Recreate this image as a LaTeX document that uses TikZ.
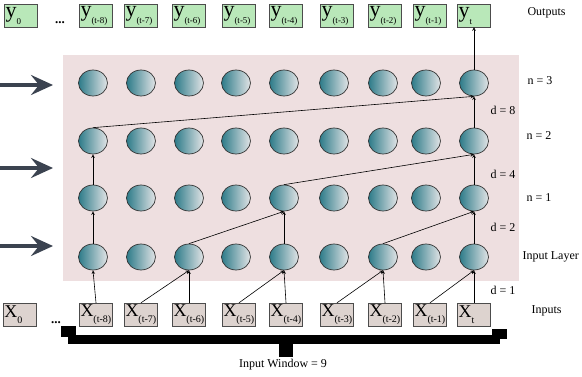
\documentclass[tikz,border=0pt]{standalone}
\usepackage{fontspec}
\setmainfont{Liberation Serif}
\usetikzlibrary{shapes.geometric,arrows.meta}
\definecolor{bgpink}{HTML}{EEDFE0}
\definecolor{outgreen}{HTML}{B9E8B9}
\definecolor{ingray}{HTML}{DDD3CF}
\definecolor{cellteal}{HTML}{2D7B89}
\definecolor{celllight}{HTML}{E2E4E6}
\definecolor{bigarrow}{HTML}{3B4350}
\newcommand{\ysub}[1]{y\raisebox{-7pt}{\fontsize{9}{9}\selectfont #1}}
\newcommand{\xsub}[1]{X\raisebox{-6pt}{\fontsize{10}{10}\selectfont #1}}

\begin{document}
\begin{tikzpicture}[x=1pt,y=-1pt,>=stealth,
  cell/.style={ellipse,draw=black!80,line width=0.7pt,left color=cellteal,right color=celllight,
    minimum width=29pt,minimum height=26pt,inner sep=0pt},
  outbox/.style={draw=black!70,fill=outgreen,minimum height=23pt,text width=31pt,
    inner xsep=1pt,inner ysep=0pt,align=left,font=\fontsize{22}{22}\selectfont},
  inbox/.style={draw=black!70,fill=ingray,minimum height=23pt,text width=31pt,
    inner xsep=1pt,inner ysep=0pt,align=left,font=\fontsize{18}{18}\selectfont},
  lbl/.style={anchor=west,font=\fontsize{12}{14}\selectfont},
  dots/.style={font=\bfseries\fontsize{13}{13}\selectfont,inner sep=0pt},
  conn/.style={->,line width=0.6pt},
  layerarrow/.style={draw=bigarrow,line width=4pt,-{Stealth[length=22pt,width=20pt,inset=8pt]}}]

\useasboundingbox (0,0) rectangle (582,376);

% shaded hidden area
\fill[bgpink] (63,55) rectangle (519,281);

% neurons
\foreach \r/\y in {0/257,1/198,2/141,3/83}
  \foreach \c/\x in {1/93,2/141,3/189,4/236,5/284,6/334,7/383,8/426,9/474}
    \node[cell] (c\r\c) at (\x,\y) {};

% outputs and inputs
\node[outbox] (y0) at (21,15.5) {\ysub{0}};
\node[inbox] (x0) at (20,314.5) {\xsub{0}};
\foreach \c/\x/\s in {1/96/(t-8),2/141/(t-7),3/189/(t-6),4/239/(t-5),5/286/(t-4),
                      6/337/(t-3),7/385/(t-2),8/430/(t-1),9/474/t} {
  \node[outbox] (y\c) at (\x,15.5) {\ysub{\s}};
  \node[inbox] (x\c) at (\x,314.5) {\xsub{\s}};
}
\node[dots] (ydots) at (60,23) {...};
\node[dots] (xdots) at (56,323) {...};

% dilation d = 1
\draw[conn] (x1.north) -- (c01.south);
\draw[conn] (x2.north) -- (c03.south);
\draw[conn] (x3.north) -- (c03.south);
\draw[conn] (x4.north) -- (c05.south);
\draw[conn] (x5.north) -- (c05.south);
\draw[conn] (x6.north) -- (c07.south);
\draw[conn] (x7.north) -- (c07.south);
\draw[conn] (x8.north) -- (c09.south);
\draw[conn] (x9.north) -- (c09.south);
% dilation d = 2
\draw[conn] (c01.north) -- (c11.south);
\draw[conn] (c03.north) -- (c15.south);
\draw[conn] (c05.north) -- (c15.south);
\draw[conn] (c07.north) -- (c19.south);
\draw[conn] (c09.north) -- (c19.south);
% dilation d = 4
\draw[conn] (c11.north) -- (c21.south);
\draw[conn] (c15.north) -- (c29.south);
\draw[conn] (c19.north) -- (c29.south);
% dilation d = 8
\draw[conn] (c21.north) -- (c39.south);
\draw[conn] (c29.north) -- (c39.south);
\draw[conn] (c39.north) -- (y9.south);

% layer arrows
\draw[layerarrow] (0,85) -- (53,85);
\draw[layerarrow] (0,168) -- (53,168);
\draw[layerarrow] (0,246) -- (53,246);

% input window bracket
\fill (61,326) rectangle (76,337);
\fill (68,335) rectangle (500,344);
\fill (492,329) rectangle (507,339);
\fill (279,344) rectangle (293,357);

% labels
\node[lbl] (outlbl) at (524,13) {Outputs};
\node[lbl] (n3) at (524,81) {n = 3};
\node[lbl] (d8) at (487,110) {d = 8};
\node[lbl] (n2) at (523,136) {n = 2};
\node[lbl] (d4) at (487,174) {d = 4};
\node[lbl] (n1) at (523,198) {n = 1};
\node[lbl] (d2) at (487,227) {d = 2};
\node[lbl] (inlayer) at (519,257) {Input Layer};
\node[lbl] (d1) at (487,290) {d = 1};
\node[lbl] (inlbl) at (528,311) {Inputs};
\node[font=\fontsize{12}{14}\selectfont] (window) at (283,365) {Input Window = 9};
\end{tikzpicture}
\end{document}
